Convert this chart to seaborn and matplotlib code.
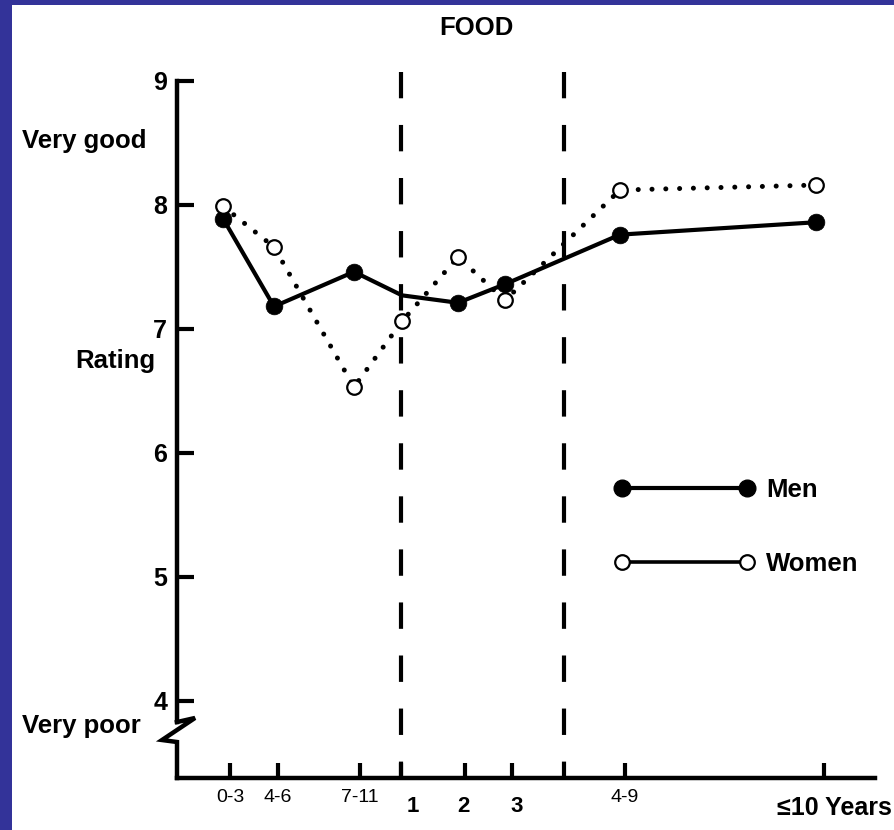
import matplotlib
matplotlib.use("Agg")
import matplotlib.pyplot as plt
from matplotlib.lines import Line2D
from matplotlib.patches import Rectangle
from matplotlib.transforms import ScaledTranslation
import seaborn as sns
import pandas as pd

# ---------------- data ----------------
periods = ["0-3", "4-6", "7-11", "1", "2", "3", "4-9", "≤10 Years"]
period_x = [46, 97, 177, 225, 281, 328, 443, 639]          # where the points sit
tick_x = [53, 101, 183, 223.7, 288, 334.7, 448, 647]       # axis tick positions
separator_x = [223.7, 387]                                  # dashed dividers
men = [7.89, 7.18, 7.46, 7.27, 7.21, 7.36, 7.76, 7.86]
men_marked = [True, True, True, False, True, True, True, True]
women = [7.99, 7.66, 6.53, 7.06, 7.58, 7.23, 8.12, 8.16]
y_ticks = [4, 5, 6, 7, 8, 9]

df_m = pd.DataFrame({"x": period_x, "y": men, "marked": men_marked})
df_w = pd.DataFrame({"x": period_x, "y": women})

# ---------------- style ----------------
sns.set_theme(style="white")
plt.rcParams["font.family"] = ["Liberation Sans", "DejaVu Sans"]
plt.rcParams["axes.linewidth"] = 3.2
for k in ("text.color", "axes.labelcolor", "xtick.color", "ytick.color",
          "axes.edgecolor"):
    plt.rcParams[k] = "black"

W, H = 895, 830
fig = plt.figure(figsize=(W / 100, H / 100), dpi=100, facecolor="white")

# blue frame (left and top)
blue = "#333399"
fig.patches.append(Rectangle((0, 0), 12 / W, 1, transform=fig.transFigure,
                             facecolor=blue, edgecolor="none", zorder=0))
fig.patches.append(Rectangle((0, 1 - 5 / H), 1, 5 / H, transform=fig.transFigure,
                             facecolor=blue, edgecolor="none", zorder=0))

ax_left, ax_right, ax_top, ax_bottom = 177, 875, 81, 778
ax = fig.add_axes([ax_left / W, (H - ax_bottom) / H,
                   (ax_right - ax_left) / W, (ax_bottom - ax_top) / H])
ax.set_facecolor("none")
ax.set_xlim(0, ax_right - ax_left)
ax.set_ylim(3.3745, 9)

# lines
sns.lineplot(data=df_w, x="x", y="y", ax=ax, color="black", lw=3.6,
             linestyle=(0, (0.01, 2.75)), dash_capstyle="round", zorder=2,
             sort=False)
sns.lineplot(data=df_m, x="x", y="y", ax=ax, color="black", lw=3.0,
             zorder=3, sort=False)
# markers
sns.scatterplot(data=df_m[df_m["marked"]], x="x", y="y", ax=ax, s=145,
                color="black", edgecolor="black", linewidth=0.5, zorder=4)
sns.scatterplot(data=df_w, x="x", y="y", ax=ax, s=110, color="white",
                edgecolor="black", linewidth=1.6, zorder=5)

# dashed dividers
plt.rcParams["lines.scale_dashes"] = False
for sx in separator_x:
    ax.plot([sx, sx], [3.3745, 9.07], color="black", lw=3.0,
            linestyle=(7.2, (19.0, 19.2)), clip_on=False, zorder=1)

# spines
sns.despine(ax=ax)
ax.spines["left"].set_bounds(3.826, 9)
for s in ("left", "bottom"):
    ax.spines[s].set_color("black")
    ax.spines[s].set_capstyle("projecting")
# axis break (zigzag) on lower part of y axis
ax.plot([0, 18, -15, 0, 0], [3.826, 3.859, 3.681, 3.665, 3.3745],
        color="black", lw=3.2, clip_on=False, solid_joinstyle="miter",
        solid_capstyle="projecting")

# ticks
ax.set_yticks(y_ticks, labels=[str(v) for v in y_ticks])
ax.set_xticks(tick_x, labels=periods)
ax.tick_params(axis="y", direction="in", length=12, width=3.0, pad=7,
               labelsize=18, colors="black", left=True)
ax.tick_params(axis="x", direction="in", length=11, width=3.0, pad=8,
               labelsize=14, colors="black", bottom=True)
for lab in ax.get_yticklabels():
    lab.set_fontweight("bold")
offsets = {"1": (12, -7), "2": (-2, -7), "3": (5, -7), "≤10 Years": (-47, -7)}
for lab in ax.get_xticklabels():
    t = lab.get_text()
    if t in offsets:
        dx, dy = offsets[t]
        lab.set_fontweight("bold")
        lab.set_fontsize(18 if t.startswith("≤") else 16)
        if t.startswith("≤"):
            lab.set_ha("left")
        lab.set_transform(lab.get_transform() +
                          ScaledTranslation(dx / 100, dy / 100, fig.dpi_scale_trans))
ax.set_xlabel("")
ax.set_ylabel("")

# texts
fs = 18.5
fig.text(476 / W, 1 - 35 / H, "FOOD", ha="center", va="baseline",
         fontsize=fs, fontweight="bold", color="black")
fig.text(22 / W, 1 - 148 / H, "Very good", ha="left", va="baseline",
         fontsize=fs, fontweight="bold", color="black")
fig.text(155 / W, 1 - 368 / H, "Rating", ha="right", va="baseline",
         fontsize=fs, fontweight="bold", color="black")
fig.text(22 / W, 1 - 733 / H, "Very poor", ha="left", va="baseline",
         fontsize=fs, fontweight="bold", color="black")

# legend
handles = [
    Line2D([], [], color="black", lw=3.0, marker="o", markersize=12,
           markerfacecolor="black", markeredgecolor="black"),
    Line2D([], [], color="black", lw=2.6, marker="o", markersize=10.5,
           markerfacecolor="white", markeredgecolor="black", markeredgewidth=1.6),
]
leg = ax.legend(handles, ["Men", "Women"], numpoints=2, handlelength=5.46,
                handletextpad=0.45, labelspacing=1.93, frameon=False,
                borderpad=0, borderaxespad=0, loc="center left",
                bbox_to_anchor=(614 / W, 1 - 527 / H),
                bbox_transform=fig.transFigure,
                prop={"size": fs, "weight": "bold"})
for txt in leg.get_texts():
    txt.set_color("black")

fig.savefig("out.png", dpi=100, facecolor="white")
